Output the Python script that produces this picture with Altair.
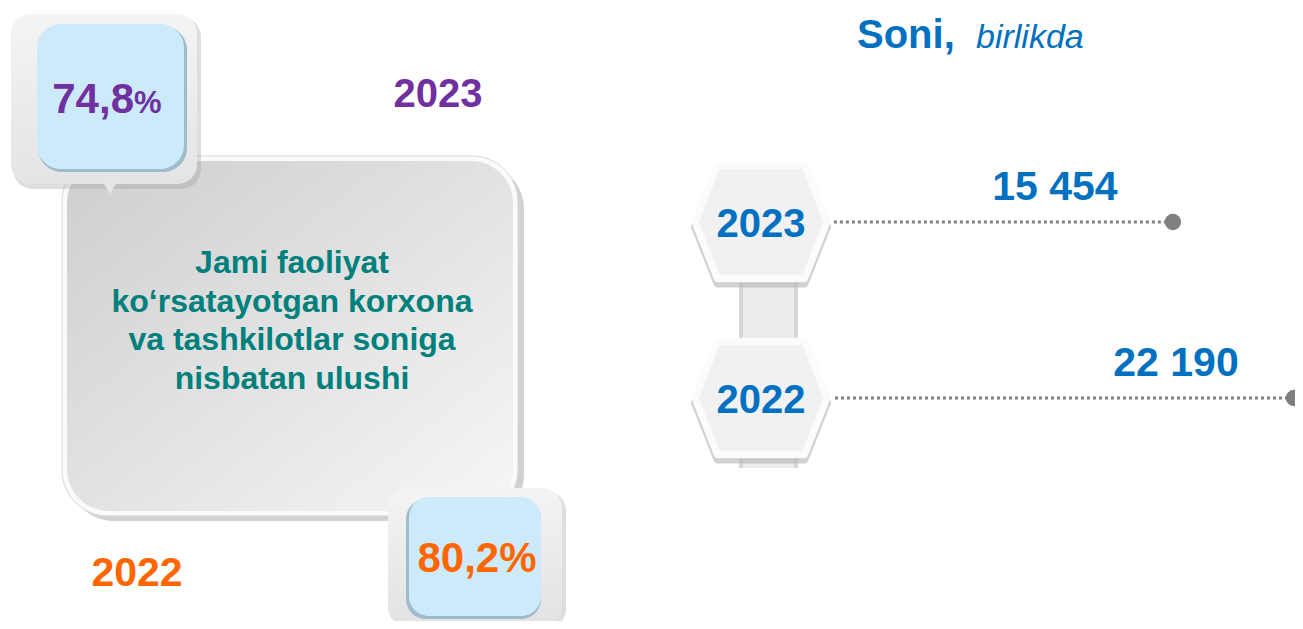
import altair as alt
import pandas as pd

# ---------------- data ----------------
years = [2023, 2022]
year_labels = ["2023", "2022"]
counts = [15454, 22190]
count_labels = ["15 454", "22 190"]
share_values = [74.8, 80.2]
share_labels = ["74,8", "80,2%"]
center_lines = ["Jami faoliyat", "ko\u2018rsatayotgan korxona", "va tashkilotlar soniga", "nisbatan ulushi"]
title_bold = "Soni,"
title_italic = "birlikda"

FONT = "Liberation Sans"
BLUE = "#0070c0"
PURPLE = "#7030a0"
ORANGE = "#ff6600"
TEAL = "#00807c"

W, H = 1287, 613


def P(v):
    # page coordinate -> chart coordinate (8px page margin)
    return v - 8


one = pd.DataFrame({"a": [0]})


def grad(c0, c1, x2=1, y2=1):
    return alt.LinearGradient(
        gradient="linear",
        stops=[alt.GradientStop(offset=0, color=c0), alt.GradientStop(offset=1, color=c1)],
        x1=0, y1=0, x2=x2, y2=y2,
    )


def box(x1, x2, y1, y2, **kw):
    return alt.Chart(one).mark_rect(**kw).encode(
        x=alt.value(P(x1)), x2=alt.value(P(x2)), y=alt.value(P(y1)), y2=alt.value(P(y2))
    )


def txt(x, y, text, **kw):
    return alt.Chart(pd.DataFrame({"t": [text]})).mark_text(font=FONT, **kw).encode(
        x=alt.value(P(x)), y=alt.value(P(y)), text="t:N"
    )


layers = []

# ---- big central box ----
layers.append(box(68, 524, 163, 521, fill="#9a9a9a", opacity=0.45, cornerRadius=46))
layers.append(box(62, 518, 156, 516, fill="#fafafa", cornerRadius=46, stroke="#d8d8d8", strokeWidth=1))
layers.append(box(67, 513, 161, 511, fill=grad("#cecece", "#f6f6f6"), cornerRadius=42))

# ---- top-left callout ----
layers.append(box(13, 201, 17, 189, fill="#a0a0a0", opacity=0.35, cornerRadius=20))
layers.append(box(11, 197, 14, 184, fill=grad("#f4f4f4", "#e4e4e4", x2=0, y2=1), cornerRadius=20))
layers.append(
    alt.Chart(one).mark_point(shape="triangle-down", filled=True, fill="#e6e6e6", size=260, opacity=1).encode(
        x=alt.value(P(110)), y=alt.value(P(187))
    )
)
layers.append(box(38, 187, 26, 172, fill="#9fbccd", cornerRadius=24))
layers.append(box(37, 184, 24, 169, fill="#cdeafb", cornerRadius=24))

# ---- bottom callout ----
layers.append(box(390, 566, 491, 629, fill="#a0a0a0", opacity=0.35, cornerRadius=20))
layers.append(box(388, 562, 488, 627, fill=grad("#f4f4f4", "#e2e2e2", x2=0, y2=1), cornerRadius=20))
layers.append(
    alt.Chart(one).mark_point(shape="triangle-up", filled=True, fill="#f4f4f4", size=240, opacity=1).encode(
        x=alt.value(P(474)), y=alt.value(P(485))
    )
)
layers.append(box(406, 541, 499, 619, fill="#9fbccd", cornerRadius=20))
layers.append(box(409, 541, 497, 616, fill="#cdeafb", cornerRadius=20))

# ---- left texts ----
share_df = pd.DataFrame({"year": year_labels, "share": share_values, "label": share_labels})
layers.append(
    alt.Chart(share_df).transform_filter("datum.year == '2023'").mark_text(
        font=FONT, fontWeight="bold", fontSize=42, color=PURPLE, align="right", baseline="alphabetic"
    ).encode(x=alt.value(P(134)), y=alt.value(P(113)), text="label:N")
)
layers.append(txt(134, 113, "%", fontWeight="bold", fontSize=31, color=PURPLE, align="left", baseline="alphabetic"))
layers.append(
    alt.Chart(share_df).transform_filter("datum.year == '2022'").mark_text(
        font=FONT, fontWeight="bold", fontSize=42, color=ORANGE, align="center", baseline="alphabetic"
    ).encode(x=alt.value(P(477)), y=alt.value(P(572)), text="label:N")
)
layers.append(txt(438, 107, year_labels[0], fontWeight="bold", fontSize=40, color=PURPLE, align="center", baseline="alphabetic"))
layers.append(txt(137, 586, year_labels[1], fontWeight="bold", fontSize=41, color=ORANGE, align="center", baseline="alphabetic"))
layers.append(
    alt.Chart(pd.DataFrame({"t": ["\n".join(center_lines)]})).mark_text(
        font=FONT, fontWeight="bold", fontSize=32, color=TEAL, align="center", baseline="alphabetic",
        lineBreak="\n", lineHeight=38.5,
    ).encode(x=alt.value(P(292)), y=alt.value(P(273)), text="t:N")
)

# ---- right: title ----
layers.append(txt(857, 48, title_bold, fontWeight="bold", fontSize=40, color=BLUE, align="left", baseline="alphabetic"))
layers.append(txt(976, 48, title_italic, fontStyle="italic", fontSize=34, color=BLUE, align="left", baseline="alphabetic"))

# ---- right: timeline ----
df = pd.DataFrame({"year": years, "ylab": year_labels, "count": counts, "label": count_labels})
xs = alt.Scale(domain=[0, 22190], range=[P(895), P(1294)])
ys = alt.Scale(domain=[2022, 2023], range=[P(398), P(222)])
X = alt.X("count:Q", scale=xs, axis=None)
Y = alt.Y("year:Q", scale=ys, axis=None)

# connector between hexagons
layers.append(box(739, 798, 280, 468, fill="#d6d6d6"))
layers.append(box(743, 794, 280, 468, fill="#ececec"))

hexpath = "M -1 0 L -0.66 -0.86 L 0.66 -0.86 L 1 0 L 0.66 0.86 L -0.66 0.86 Z"
shadowpath = "M -1 0.07 L -0.66 -0.8 L 0.66 -0.8 L 1 0.07 L 0.66 0.93 L -0.66 0.93 Z"
base = alt.Chart(df)
layers.append(
    base.mark_point(shape=shadowpath, filled=True, fill="#b4b4b4", opacity=0.6, size=132 * 132,
                    stroke="#b4b4b4", strokeWidth=8, strokeJoin="round").encode(
        x=alt.value(P(761)), y=Y
    )
)
layers.append(
    base.mark_point(shape=hexpath, filled=True, fill="#f1f1f1", opacity=1,
                    size=132 * 132, stroke="#fbfbfb", strokeWidth=7, strokeJoin="round").encode(
        x=alt.value(P(761)), y=Y
    )
)
layers.append(
    base.mark_text(font=FONT, fontWeight="bold", fontSize=40, color=BLUE, align="center", baseline="middle", dy=3).encode(
        x=alt.value(P(761)), y=Y, text="ylab:N"
    )
)

# dotted lines + dots
layers.append(
    base.mark_rule(color="#7f7f7f", strokeWidth=3, strokeDash=[3, 3]).encode(
        x=X, x2=alt.value(P(834)), y=Y
    )
)
layers.append(base.mark_circle(color="#7f7f7f", size=270, opacity=1).encode(x=X, y=Y))
layers.append(
    base.mark_text(font=FONT, fontWeight="bold", fontSize=41, color=BLUE, align="center", baseline="middle",
                   dx=-118, dy=-34).encode(x=X, y=Y, text="label:N")
)

chart = alt.layer(*layers).properties(
    width=W, height=H, padding=0,
    autosize=alt.AutoSizeParams(type="fit", contains="padding"),
    background="white",
).configure_view(stroke=None)

chart.save("out.html", embed_options={"renderer": "svg", "actions": False})
